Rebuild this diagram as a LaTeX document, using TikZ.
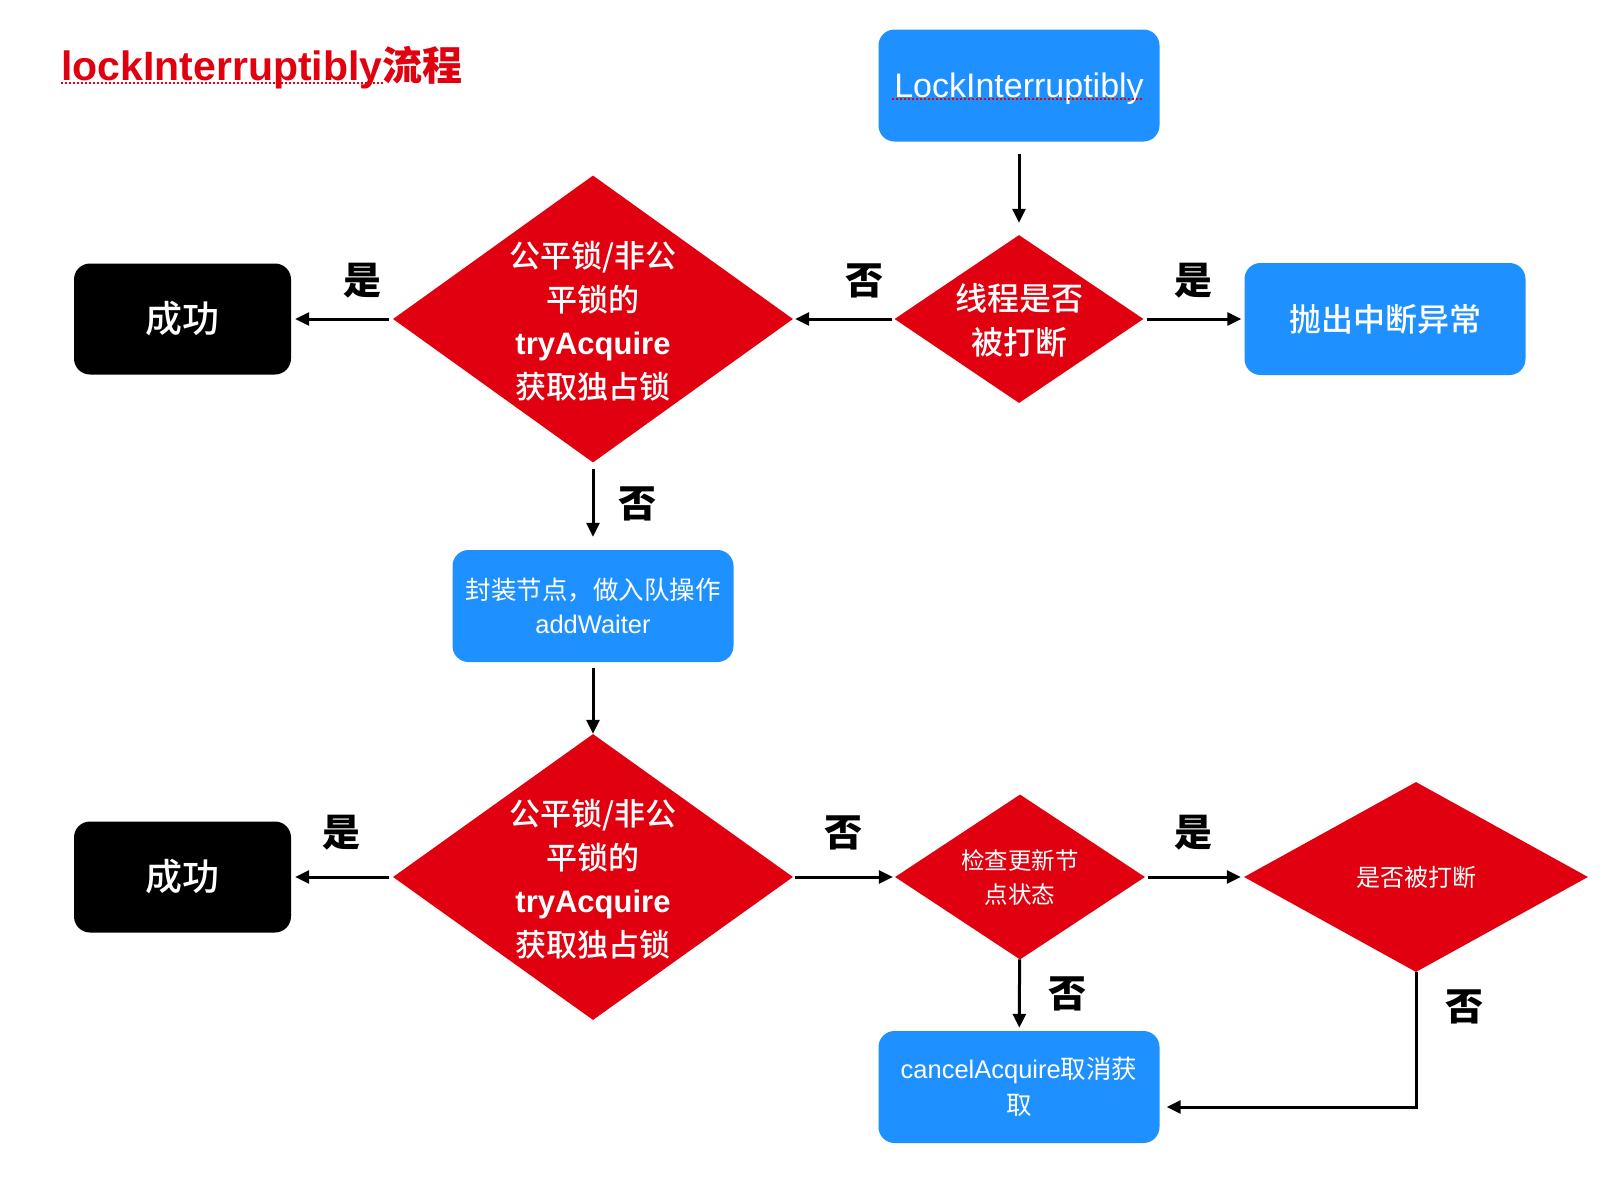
\documentclass[tikz,border=0pt]{standalone}
\usepackage{fontspec}
\setmainfont{Liberation Sans}
\newfontfamily\cjk{Noto Sans CJK SC}
\newfontfamily\cjkm{Noto Sans CJK SC Medium}
\usetikzlibrary{shapes.geometric,arrows.meta,calc}
\definecolor{dblue}{RGB}{30,144,255}
\definecolor{dred}{RGB}{224,0,15}
\newcommand\zh[1]{{\cjk #1}}
\newcommand\zhm[1]{{\cjkm\mdseries #1}}
\newcommand\fs[2]{\fontsize{#1}{#2}\selectfont}
\begin{document}
\begin{tikzpicture}[x=1pt,y=-1pt,
 bluebox/.style={fill=dblue, rounded corners=16pt, minimum width=281pt, minimum height=112pt, text=white, align=center, inner sep=0pt},
 blackbox/.style={fill=black, rounded corners=16pt, minimum width=217pt, minimum height=111pt, text=white, inner sep=0pt},
 dia/.style={diamond, fill=dred, inner sep=0pt},
 dtext/.style={text=white, align=center, inner sep=0pt},
 yn/.style={font=\fs{38}{40}\cjk\bfseries, inner sep=0pt},
 arr/.style={line width=3pt, -{Triangle[length=14pt,width=13pt]}},
 squig/.style={dred, line width=2pt, dash pattern=on 2pt off 2pt},
]
\useasboundingbox[fill=white] (0,0) rectangle (1612,1178);

% title
\node[anchor=base west, text=dred, font=\fs{41}{44}\bfseries, inner sep=0pt] (ttl) at (61,80) {lockInterruptibly};
\node[anchor=base west, text=dred, font=\fs{40}{44}\cjk\bfseries, inner sep=0pt] (ttl2) at (ttl.base east) {流程};
\draw[squig] ([yshift=-3pt]ttl.base west) -- ([yshift=-3pt]ttl.base east);

% nodes
\node[bluebox, font=\fs{34}{36}, text depth=0pt] (start) at (1019,85.5) {LockInterruptibly};
\draw[squig] ([xshift=-127pt,yshift=-13.5pt]start.center) -- ([xshift=124pt,yshift=-13.5pt]start.center);

\node[dia, minimum width=249pt, minimum height=168pt] (intr) at (1019,319) {};
\node[dtext, font=\fs{32}{44}\cjkm] (intrt) at (1019,320) {线程是否\\被打断};

\node[bluebox, font=\fs{32}{36}\cjkm] (throw) at (1385,319) {抛出中断异常};

\node[dia, minimum width=400pt, minimum height=287pt] (try1) at (593,319) {};
\node[dtext, font=\fs{31}{43.5}\bfseries] (try1t) at (593,321) {\zhm{公平锁/非公}\\\zhm{平锁的}\\tryAcquire\\\zhm{获取独占锁}};

\node[blackbox, font=\fs{37}{40}\cjkm] (ok1) at (182.5,319) {成功};

\node[bluebox, font=\fs{25.5}{34}] (enq) at (593,606) {\zh{封装节点，做入队操作}\\addWaiter};

\node[dia, minimum width=400pt, minimum height=286pt] (try2) at (593,877) {};
\node[dtext, font=\fs{31}{43.5}\bfseries] (try2t) at (593,879) {\zhm{公平锁/非公}\\\zhm{平锁的}\\tryAcquire\\\zhm{获取独占锁}};

\node[blackbox, font=\fs{37}{40}\cjkm] (ok2) at (182.5,877) {成功};

\node[dia, minimum width=250pt, minimum height=165pt] (chk) at (1020,877) {};
\node[dtext, font=\fs{23.5}{34}\cjk] (chkt) at (1020,877) {检查更新节\\点状态};

\node[dia, minimum width=344pt, minimum height=190pt] (intr2) at (1416,877) {};
\node[dtext, font=\fs{24}{30}\cjk] (intr2t) at (1416,877) {是否被打断};

\node[bluebox, font=\fs{25.5}{36}] (cancel) at (1019,1087) {cancelAcquire\zh{取消获}\\\zh{取}};

% connectors
\draw[arr, shorten <=12pt, shorten >=12pt] (start) -- (intr);
\draw[arr, shorten <=3pt, shorten >=3pt] (intr) -- (throw);
\draw[arr, shorten <=2pt, shorten >=2pt] (intr) -- (try1);
\draw[arr, shorten <=4pt, shorten >=4pt] (try1) -- (ok1);
\draw[arr, shorten <=6pt, shorten >=13pt] (try1) -- (enq);
\draw[arr, shorten <=6pt] (enq) -- (try2);
\draw[arr, shorten <=4pt, shorten >=4pt] (try2) -- (ok2);
\draw[arr, shorten <=2pt, shorten >=2pt] (try2) -- (chk);
\draw[arr, shorten <=3pt, shorten >=3pt] (chk) -- (intr2);
\draw[arr, shorten >=3pt] (chk) -- (cancel);
\coordinate (cin) at ($(cancel.east)+(7,20)$);
\draw[arr] (intr2.south) |- (cin);

% labels
\node[yn] (l1) at (1193,281) {是};
\node[yn] (l2) at (864,281) {否};
\node[yn] (l3) at (362,281) {是};
\node[yn] (l4) at (637,504) {否};
\node[yn] (l5) at (341,833) {是};
\node[yn] (l6) at (843,833) {否};
\node[yn] (l7) at (1193,833) {是};
\node[yn] (l8) at (1067,994) {否};
\node[yn] (l9) at (1464,1007) {否};
\end{tikzpicture}
\end{document}
